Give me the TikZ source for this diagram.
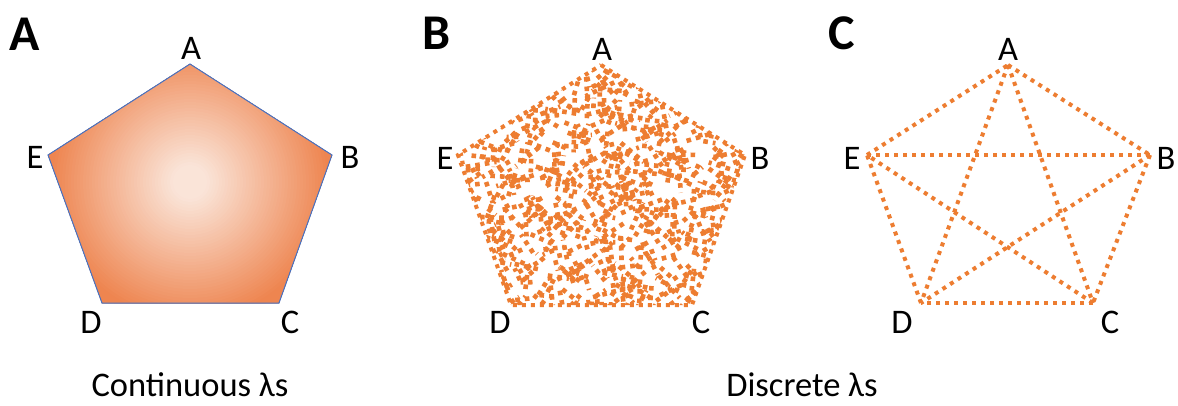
\documentclass[tikz,border=0pt]{standalone}
\usepackage{fontspec}
\setmainfont{Carlito}
\definecolor{dotorange}{HTML}{ED7D31}
\definecolor{pcenter}{HTML}{FAE4D8}
\definecolor{pedge}{HTML}{EE8550}
\definecolor{edgeblue}{HTML}{4472C4}
\begin{document}
\begin{tikzpicture}[x=1bp,y=-1bp,
  lbl/.style={font=\fontsize{34.5bp}{40bp}\selectfont, inner sep=0pt},
  panel/.style={font=\fontsize{50bp}{56bp}\selectfont\bfseries, inner sep=0pt},
  dotline/.style={draw=dotorange, line width=4bp, dash pattern=on 4bp off 5bp},
  texture/.style={draw=dotorange, line width=4.6bp, dash pattern=on 4.6bp off 5bp},
  ]
\useasboundingbox (0,0) rectangle (1178,405);

% ---------- Panel A ----------
\node[panel] (pA) at (25,34) {A};
\coordinate (aA) at (190,64);
\coordinate (aB) at (332,155);
\coordinate (aC) at (279,303);
\coordinate (aD) at (102,303);
\coordinate (aE) at (48,155);
\begin{scope}
  \clip (aA) -- (aB) -- (aC) -- (aD) -- (aE) -- cycle;
  \foreach \r in {170,167,...,1} {
    \pgfmathsetmacro\p{min(100,max(0,(\r-18)/122*100))}
    \fill[pedge!\p!pcenter] (190,182) circle (\r);
  }
\end{scope}
\draw[edgeblue, line width=1bp] (aA) -- (aB) -- (aC) -- (aD) -- (aE) -- cycle;
\node[lbl] (laA) at (191,48.5) {A};
\node[lbl] (laB) at (350,157) {B};
\node[lbl] (laC) at (290,322) {C};
\node[lbl] (laD) at (91,322) {D};
\node[lbl] (laE) at (35,157) {E};

% ---------- Panel B ----------
\node[panel] (pB) at (437,33) {B};
\coordinate (bA) at (601,65);
\coordinate (bB) at (745,155);
\coordinate (bC) at (692,305);
\coordinate (bD) at (511,305);
\coordinate (bE) at (458,155);
\begin{scope}
  \clip (bA) -- (bB) -- (bC) -- (bD) -- (bE) -- cycle;
  \pgfmathsetseed{11}
  \foreach \gx in {452,463,...,752} {
    \foreach \gy in {58,69,...,310} {
      \pgfmathsetmacro\xa{\gx+10*rnd}
      \pgfmathsetmacro\ya{\gy+10*rnd}
      \pgfmathsetmacro\ang{360*rnd}
      \pgfmathsetmacro\len{10+22*rnd}
      \draw[texture] (\xa,\ya) -- ++(\ang:\len);
    }
  }
\end{scope}
\draw[dotline] (bA) -- (bB) -- (bC) -- (bD) -- (bE) -- cycle;
\node[lbl] (lbA) at (602,49) {A};
\node[lbl] (lbB) at (760,158) {B};
\node[lbl] (lbC) at (701,322) {C};
\node[lbl] (lbD) at (500,322) {D};
\node[lbl] (lbE) at (445,158) {E};

% ---------- Panel C ----------
\node[panel] (pC) at (842,33) {C};
\coordinate (cA) at (1008,65);
\coordinate (cB) at (1150,155);
\coordinate (cC) at (1093,303);
\coordinate (cD) at (921,303);
\coordinate (cE) at (867,155);
\draw[dotline] (cA) -- (cB);
\draw[dotline] (cB) -- (cC);
\draw[dotline] (cC) -- (cD);
\draw[dotline] (cD) -- (cE);
\draw[dotline] (cE) -- (cA);
\draw[dotline] (cA) -- (cC);
\draw[dotline] (cA) -- (cD);
\draw[dotline] (cB) -- (cD);
\draw[dotline] (cB) -- (cE);
\draw[dotline] (cC) -- (cE);
\node[lbl] (lcA) at (1008,49) {A};
\node[lbl] (lcB) at (1166,158) {B};
\node[lbl] (lcC) at (1110,322) {C};
\node[lbl] (lcD) at (902,322) {D};
\node[lbl] (lcE) at (852,158) {E};

% ---------- Captions ----------
\node[lbl, anchor=base] (capA) at (190,396) {Continuous λs};
\node[lbl, anchor=base] (capB) at (802,396) {Discrete λs};
\end{tikzpicture}
\end{document}
